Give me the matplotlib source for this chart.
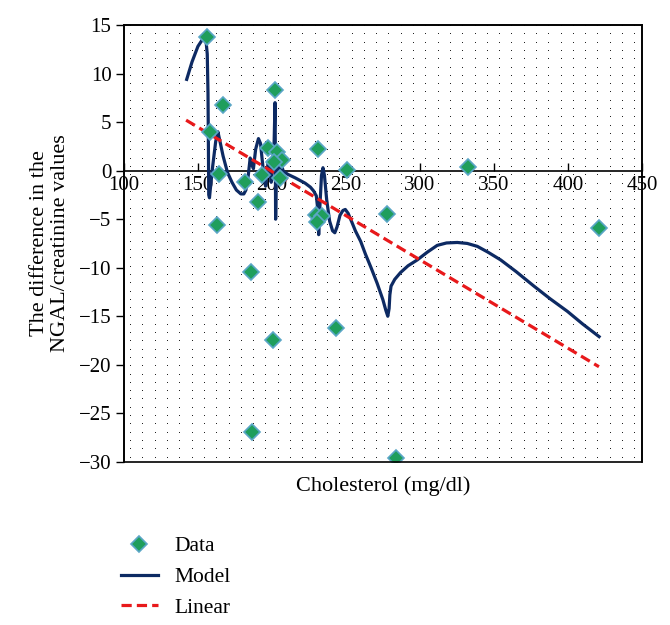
import numpy as np
import matplotlib
matplotlib.use('Agg')
import matplotlib.pyplot as plt
from matplotlib.patches import Rectangle

plt.rcParams['font.family'] = ['Liberation Serif', 'DejaVu Serif']

# observed points
data_x = [156.3, 166.6, 202.3, 158.0, 164.0, 181.6, 197.4, 231.0, 250.4, 203.3,
          206.6, 201.2, 205.5, 193.5, 190.6, 162.6, 230.0, 234.0, 230.5, 186.0,
          332.7, 277.7, 421.0, 243.5, 201.0, 186.8, 283.7]
data_y = [13.8, 6.8, 8.3, 4.0, -0.3, -1.2, 2.3, 2.2, 0.1, 1.9,
          1.1, 0.9, -0.8, -0.4, -3.2, -5.6, -4.6, -4.7, -5.3, -10.4,
          0.4, -4.5, -5.9, -16.2, -17.4, -26.9, -29.6]

# model curve
model_x = [142.4, 146, 150, 153, 154.5, 155.5, 156.3, 156.8, 157.1, 157.3, 157.8,
           158.3, 160, 162, 163.5, 164.5, 167, 170, 173, 176, 179, 181, 182.4,
           184, 185.3, 186.5, 187.5, 189, 190.9, 192.3, 193.5, 195, 195.7, 196.5,
           197.5, 198.5, 199.5, 200.5, 201.5, 202.1, 202.3, 202.5, 202.9, 203.6,
           204.3, 205, 205.7, 206.5, 207.8, 211, 215.8, 222.5, 226, 228.2, 230,
           231, 231.6, 232.3, 233.5, 234.5, 235.5, 237, 239, 241, 242.5, 244, 246,
           248, 249.6, 251.5, 254, 256.4, 260, 263.2, 267, 271.1, 275, 277, 278.3,
           279.2, 279.7, 280.5, 283, 286.9, 292, 298.2, 305, 311.7, 318, 325.3,
           332, 338.8, 346, 354.6, 365, 377.1, 388, 399.7, 410, 421.1]
model_y = [9.4, 11.2, 12.8, 13.5, 13.6, 13.3, 12.0, 8.0, 2.0, -2.5, -2.8,
           -2.0, 0.5, 3.0, 4.0, 3.3, 1.5, -0.2, -1.2, -2.0, -2.4, -2.4, -2.0,
           -0.5, 1.3, 0.6, 0.2, 2.2, 3.3, 2.8, 1.0, -1.0, -1.6, -0.5,
           1.0, 0.5, -1.2, 0.5, 3.0, 7.0, 2.0, -5.0, -1.0, 1.8,
           0.5, -1.0, 1.3, 0.5, -0.1, -0.4, -0.75, -1.3, -1.7, -2.1, -2.6,
           -4.0, -6.6, -4.0, -0.5, 0.3, -0.5, -3.0, -5.2, -6.2, -6.4, -5.8, -4.6,
           -4.1, -4.0, -4.4, -5.3, -6.2, -7.3, -8.6, -10.0, -11.6, -13.3, -14.4, -15.0,
           -14.2, -12.8, -11.9, -11.2, -10.5, -9.8, -9.2, -8.4, -7.7, -7.45, -7.4,
           -7.5, -7.8, -8.4, -9.2, -10.4, -11.9, -13.2, -14.5, -15.8, -17.1]

# linear trend end points
linear_x = [142, 421]
linear_y = [5.2, -20.2]

x_ticks = [100, 150, 200, 250, 300, 350, 400, 450]
y_ticks = [15, 10, 5, 0, -5, -10, -15, -20, -25, -30]

fig = plt.figure(figsize=(6.7, 6.25), dpi=100)
ax = fig.add_axes([0.185, 0.261, 0.773, 0.699])
ax.set_xlim(100, 450)
ax.set_ylim(-30, 15)

# dotted background
gx, gy = np.meshgrid(np.arange(0.012, 1.0, 12.3 / 518), np.arange(0.01, 1.0, 8.3 / 437))
ax.plot(gx.ravel(), gy.ravel(), linestyle='none', marker=',', color='#222222',
        transform=ax.transAxes, zorder=0)

ax.plot(data_x, data_y, linestyle='none', marker='D', markersize=8,
        markerfacecolor='#1f9e5c', markeredgecolor='#5aa6c6', markeredgewidth=1.2,
        label='Data', zorder=4)
ax.plot(model_x, model_y, color='#0d2a63', linewidth=2.3, label='Model', zorder=3)
ax.plot(linear_x, linear_y, color='#e8191b', linewidth=2.3, linestyle=(0, (3.2, 1.6)),
        label='Linear', zorder=3)

for s in ['left', 'right', 'top']:
    ax.spines[s].set_linewidth(1.2)
ax.spines['bottom'].set_position(('data', 0))
ax.spines['bottom'].set_linewidth(1.2)
ax.add_patch(Rectangle((0, 0), 1, 1, transform=ax.transAxes, fill=False,
                       linewidth=1.2, edgecolor='black', clip_on=False, zorder=5))

ax.set_xticks(x_ticks)
ax.set_yticks(y_ticks)
ax.set_yticklabels([str(v).replace('-', '\u2212') for v in y_ticks])
ax.tick_params(axis='x', direction='in', length=6, width=1, labelsize=15, pad=4)
ax.tick_params(axis='y', direction='out', length=6, width=1, labelsize=15, pad=3)

ax.set_ylabel('The difference in the\nNGAL/creatinine values', fontsize=16, labelpad=6)
fig.text(0.572, 0.222, 'Cholesterol (mg/dl)', fontsize=16, ha='center', va='center')

fig.legend(loc='upper left', bbox_to_anchor=(0.18, 0.142), frameon=False,
           fontsize=15.5, handlelength=1.75, handletextpad=0.75, labelspacing=0.5,
           borderpad=0, borderaxespad=0)

fig.savefig('out.png', dpi=100)
